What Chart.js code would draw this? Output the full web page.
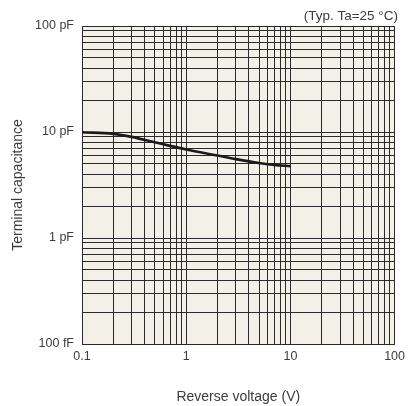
<!DOCTYPE html>
<html>
<head>
<meta charset="utf-8">
<script src="https://cdn.jsdelivr.net/npm/chart.js@4"></script>
<style>
  html, body { margin: 0; padding: 0; background: #fff; }
  #wrap { width: 410px; height: 406px; }
</style>
</head>
<body>
<div id="wrap"><canvas id="chart" width="410" height="406"></canvas></div>
<script>
// data
const voltage = [0.1, 0.2, 0.3, 0.5, 0.7, 1, 2, 3, 5, 7, 10];
const capacitance = [9.95, 9.6, 9.0, 8.0, 7.4, 6.85, 6.0, 5.55, 5.1, 4.9, 4.75];

const xTickValues = [0.1, 1, 10, 100];
const xTickLabels = ['0.1', '1', '10', '100'];
const yTickValues = [0.1, 1, 10, 100];
const yTickLabels = ['100 fF', '1 pF', '10 pF', '100 pF'];

const textColor = '#3c3c3c';
const gridColor = '#2a2a2a';
const fontFamily = '"Liberation Sans", Arial, sans-serif';

// decade + 2..9 minor ticks so every grid line is drawn
function logGridTicks(decades) {
    let ticks = [];
    for (let i = 0; i < decades.length - 1; i++) {
        for (let m = 1; m < 10; m++) ticks.push({ value: +(decades[i] * m).toPrecision(3) });
    }
    ticks.push({ value: decades[decades.length - 1] });
    return ticks;
}

function labelFor(values, labels, v) {
    let idx = values.findIndex(t => Math.abs(t - v) / t < 1e-6);
    return idx >= 0 ? labels[idx] : '';
}

const plotBackground = {
    id: 'plotBackground',
    beforeDraw(chart) {
        const { ctx, chartArea } = chart;
        ctx.save();
        ctx.fillStyle = '#f2f0e7';
        ctx.fillRect(chartArea.left, chartArea.top, chartArea.right - chartArea.left, chartArea.bottom - chartArea.top);
        ctx.restore();
    }
};

new Chart(document.getElementById('chart'), {
    type: 'line',
    data: {
        datasets: [{
            data: voltage.map((v, i) => ({ x: v, y: capacitance[i] })),
            borderColor: '#1a1a1a',
            borderWidth: 2.6,
            pointRadius: 0,
            cubicInterpolationMode: 'monotone',
            fill: false
        }]
    },
    options: {
        responsive: false,
        animation: false,
        layout: { padding: { left: 0, right: 12, top: 0, bottom: 0 } },
        plugins: {
            legend: { display: false },
            tooltip: { enabled: false },
            title: {
                display: true,
                text: '(Typ. Ta=25 °C)',
                align: 'end',
                color: textColor,
                font: { family: fontFamily, size: 13.5, weight: 'normal' },
                padding: { top: 8.5, bottom: 1.3 }
            }
        },
        scales: {
            x: {
                type: 'logarithmic',
                min: 0.1,
                max: 100,
                afterBuildTicks: s => { s.ticks = logGridTicks(xTickValues); },
                afterFit: s => { s.height = 62; },
                ticks: {
                    autoSkip: false,
                    maxRotation: 0,
                    padding: 5,
                    color: textColor,
                    font: { family: fontFamily, size: 12.5 },
                    callback: v => labelFor(xTickValues, xTickLabels, v)
                },
                grid: { color: gridColor, lineWidth: 1, drawTicks: false },
                border: { color: gridColor, width: 1 },
                title: {
                    display: true,
                    text: 'Reverse voltage (V)',
                    color: textColor,
                    font: { family: fontFamily, size: 14 },
                    padding: { top: 0, bottom: 0.6 }
                }
            },
            y: {
                type: 'logarithmic',
                min: 0.1,
                max: 100,
                afterBuildTicks: s => { s.ticks = logGridTicks(yTickValues); },
                afterFit: s => { s.width = 82; },
                ticks: {
                    autoSkip: false,
                    padding: 8,
                    color: textColor,
                    font: { family: fontFamily, size: 12.5 },
                    callback: v => labelFor(yTickValues, yTickLabels, v)
                },
                grid: { color: gridColor, lineWidth: 1, drawTicks: false },
                border: { color: gridColor, width: 1 },
                title: {
                    display: true,
                    text: 'Terminal capacitance',
                    color: textColor,
                    font: { family: fontFamily, size: 14 },
                    padding: { top: 10, bottom: 0 }
                }
            }
        }
    },
    plugins: [plotBackground]
});
</script>
</body>
</html>
